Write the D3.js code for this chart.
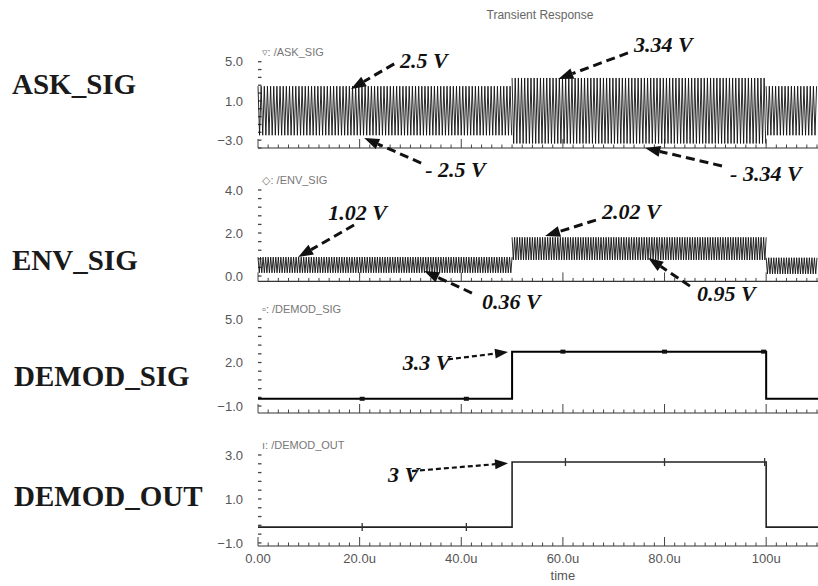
<!DOCTYPE html>
<html><head><meta charset="utf-8">
<script src="https://cdn.jsdelivr.net/npm/d3@7"></script>
<style>body{margin:0;background:#fff;} svg{display:block;}</style>
</head><body><svg id="c" width="818" height="586"></svg>
<script>
// ---------------- data ----------------
const timeTicks = [0, 20, 40, 60, 80, 100];
const timeTickLabels = ["0.00", "20.0u", "40.0u", "60.0u", "80.0u", "100u"];
const timeDomain = [0, 110.2];

const panelNames = ["ASK_SIG", "ENV_SIG", "DEMOD_SIG", "DEMOD_OUT"];
const traceLabels = ["\u25BF: /ASK_SIG", "\u25C7: /ENV_SIG", "\u25AB: /DEMOD_SIG", "\u0131: /DEMOD_OUT"];
const panelDomains = [[-3.8, 5], [-0.25, 4], [-1.48, 5], [-1.14, 3]];
const panelTicks = [[5, 1, -3], [4, 2, 0], [5, 2, -1], [3, 1, -1]];
const panelTickLabels = [["5.0", "1.0", "\u22123.0"], ["4.0", "2.0", "0.0"], ["5.0", "2.0", "\u22121.0"], ["3.0", "1.0", "\u22121.0"]];
const panelMinorStep = [0.8, 0.4, 0.6, 0.4];

// ASK_SIG: carrier amplitude per segment (V)
const askSegStart = [0, 50, 100];
const askSegEnd = [50, 100, 110.2];
const askPeak = [2.5, 3.34, 2.5];
const askTrough = [-2.5, -3.34, -2.5];
const askCarrierPeriod = 0.62; // us

// ENV_SIG: ripple band per segment (as drawn)
const envSegStart = [0, 50, 100];
const envSegEnd = [50, 100, 110.2];
const envPeak = [0.88, 1.8, 0.85];
const envFloor = [0.15, 0.75, 0.1];
const envRipplePeriod = 0.5; // us

// DEMOD_SIG / DEMOD_OUT step traces
const demodSigTime = [0, 50, 50, 100, 100, 110.2];
const demodSigValue = [-0.5, -0.5, 2.75, 2.75, -0.5, -0.5];
const demodSigMarkT = [20.5, 41, 60, 80, 99.5];
const demodOutTime = [0, 50, 50, 100, 100, 110.2];
const demodOutValue = [-0.28, -0.28, 2.68, 2.68, -0.28, -0.28];
const demodOutMarkT = [20.5, 41, 60.5, 80, 99.7];

// annotations: label, panel, text (t,v), arrow from (t,v), arrow tip (t,v)
const annLabels = ["2.5 V", "- 2.5 V", "3.34 V", "- 3.34 V", "1.02 V", "0.36 V", "2.02 V", "0.95 V", "3.3 V", "3 V"];
const annPanel = [0, 0, 0, 0, 1, 1, 1, 1, 2, 3];
const annTextT = [27.95, 32.9, 74, 92.9, 13.8, 44.1, 67.7, 86.4, 28.5, 25.6];
const annTextV = [5.18, -5.94, 6.82, -6.35, 2.98, -1.16, 3.02, -0.79, 2.03, 2.13];
const annFromT = [26.8, 32.1, 72.8, 91.3, 18.9, 42.1, 66.5, 85, 37.4, 30.3];
const annFromV = [4.78, -5.33, 5.9, -5.63, 2.37, -0.79, 2.6, -0.47, 2.22, 2.27];
const annTipT = [18.3, 20.9, 59.1, 76.2, 7.9, 32.7, 56.5, 76.8, 49.2, 49.2];
const annTipV = [2.22, -2.78, 3.24, -3.8, 0.88, 0.23, 1.86, 0.84, 2.72, 2.63];

// ---------------- layout ----------------
const svg = d3.select("#c");
const x = d3.scaleLinear().domain(timeDomain).range([258, 818]);
const panelRanges = [[148, 61.7], [281.4, 190], [413, 319], [546, 455]];
const ys = panelDomains.map((d, i) => d3.scaleLinear().domain(d).range(panelRanges[i]));
const tickFont = "'Liberation Sans', 'DejaVu Sans', sans-serif";

// title
svg.append("text").attr("x", 540).attr("y", 19).attr("text-anchor", "middle")
  .attr("font-family", tickFont).attr("font-size", 12).attr("fill", "#666").text("Transient Response");

// left labels
const leftBase = [94, 270, 386, 506];
panelNames.forEach((n, i) => {
  svg.append("text").attr("x", i >= 2 ? 14 : 12).attr("y", leftBase[i])
    .attr("font-family", "'Liberation Serif', 'Times New Roman', serif")
    .attr("font-weight", "bold").attr("font-size", 29).attr("fill", "#1a1a1a").text(n);
});

ys.forEach((y, i) => {
  const g = svg.append("g");
  const yb = panelRanges[i][0];
  g.append("line").attr("x1", x(0)).attr("x2", 818).attr("y1", yb).attr("y2", yb)
    .attr("stroke", "#333").attr("stroke-width", 1.2);
  for (let t = 0; t <= timeDomain[1]; t += 2) {
    const major = Math.abs(t % 20) < 1e-6;
    g.append("line").attr("x1", x(t)).attr("x2", x(t)).attr("y1", yb).attr("y2", yb - (major ? 9 : 3.5))
      .attr("stroke", "#444").attr("stroke-width", 1);
  }
  const [lo] = panelDomains[i];
  const top = panelTicks[i][0], step = panelMinorStep[i];
  for (let v = top; v >= lo - 1e-6; v -= step) {
    g.append("line").attr("x1", 258).attr("x2", 261.5).attr("y1", y(v)).attr("y2", y(v))
      .attr("stroke", "#444").attr("stroke-width", 1.3);
  }
  panelTicks[i].forEach((v, k) => {
    g.append("text").attr("x", 243).attr("y", y(v)).attr("dy", "0.36em").attr("text-anchor", "end")
      .attr("font-family", tickFont).attr("font-size", 13).attr("fill", "#555").text(panelTickLabels[i][k]);
  });
  g.append("text").attr("x", 262).attr("y", y(top) - 6).attr("font-family", tickFont)
    .attr("font-size", 11).attr("fill", "#777").text(traceLabels[i]);
});

const line = (yS) => d3.line().x(d => x(d[0])).y(d => yS(d[1]));

// ASK_SIG carrier
askSegStart.forEach((s, k) => {
  const pts = [];
  let j = 0;
  for (let t = s; t <= askSegEnd[k] + 1e-9; t += askCarrierPeriod / 2, j++) {
    pts.push([t, j % 2 === 0 ? askPeak[k] : askTrough[k]]);
  }
  svg.append("path").attr("d", line(ys[0])(pts)).attr("fill", "none")
    .attr("stroke", "#111").attr("stroke-width", 0.9);
});

// ENV_SIG ripple
envSegStart.forEach((s, k) => {
  const pts = [];
  let j = 0;
  for (let t = s; t <= envSegEnd[k] + 1e-9; t += envRipplePeriod / 2, j++) {
    pts.push([t, j % 2 === 0 ? envPeak[k] : envFloor[k]]);
  }
  svg.append("path").attr("d", line(ys[1])(pts)).attr("fill", "none")
    .attr("stroke", "#111").attr("stroke-width", 0.9);
});

// DEMOD traces
svg.append("path").attr("d", line(ys[2])(demodSigTime.map((t, i) => [t, demodSigValue[i]])))
  .attr("fill", "none").attr("stroke", "#000").attr("stroke-width", 2);
svg.append("path").attr("d", line(ys[3])(demodOutTime.map((t, i) => [t, demodOutValue[i]])))
  .attr("fill", "none").attr("stroke", "#222").attr("stroke-width", 1.6);

demodSigMarkT.forEach(t => {
  const v = t > 50 && t < 100 ? demodSigValue[2] : demodSigValue[0];
  svg.append("rect").attr("x", x(t) - 2.5).attr("y", ys[2](v) - 2).attr("width", 5).attr("height", 4).attr("fill", "#111");
});
demodOutMarkT.forEach(t => {
  const v = t > 50 && t < 100 ? demodOutValue[2] : demodOutValue[0];
  svg.append("line").attr("x1", x(t)).attr("x2", x(t)).attr("y1", ys[3](v) - 4).attr("y2", ys[3](v) + 4)
    .attr("stroke", "#333").attr("stroke-width", 1.3);
});

// annotations
annLabels.forEach((lab, i) => {
  const y = ys[annPanel[i]];
  const small = annPanel[i] >= 2;
  svg.append("text").attr("x", x(annTextT[i])).attr("y", y(annTextV[i])).attr("dy", "0.35em")
    .attr("font-family", "'Liberation Serif', 'Times New Roman', serif").attr("font-weight", "bold")
    .attr("font-style", "italic").attr("font-size", 22).attr("fill", "#111").text(lab);
  const x1 = x(annFromT[i]), y1 = y(annFromV[i]), x2 = x(annTipT[i]), y2 = y(annTipV[i]);
  const dx = x2 - x1, dy = y2 - y1, L = Math.hypot(dx, dy), ux = dx / L, uy = dy / L;
  const hl = small ? 13 : 15, hw = small ? 5 : 5.5;
  const bx = x2 - ux * hl, by = y2 - uy * hl;
  svg.append("line").attr("x1", x1).attr("y1", y1).attr("x2", bx).attr("y2", by)
    .attr("stroke", "#111").attr("stroke-width", small ? 2.2 : 3).attr("stroke-dasharray", small ? "5,3" : "9,5");
  svg.append("polygon").attr("points", [[x2, y2], [bx - uy * hw, by + ux * hw], [bx + uy * hw, by - ux * hw]].map(p => p.join(",")).join(" "))
    .attr("fill", "#111");
});

// x tick labels + axis title
timeTicks.forEach((t, k) => {
  svg.append("text").attr("x", x(t)).attr("y", 563).attr("text-anchor", "middle")
    .attr("font-family", tickFont).attr("font-size", 13).attr("fill", "#555").text(timeTickLabels[k]);
});
svg.append("text").attr("x", x(60)).attr("y", 580).attr("text-anchor", "middle")
  .attr("font-family", tickFont).attr("font-size", 13).attr("fill", "#555").text("time");
</script></body></html>
